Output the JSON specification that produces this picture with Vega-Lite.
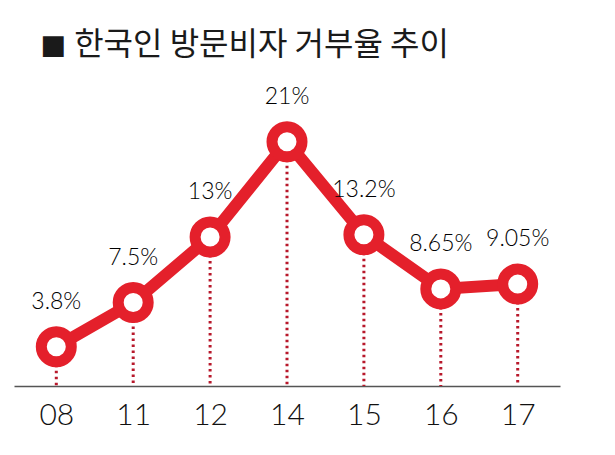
{
  "$schema": "https://vega.github.io/schema/vega-lite/v6.json",
  "autosize": "none",
  "width": 546,
  "height": 286,
  "padding": {"left": 14, "top": 100, "right": 55, "bottom": 69},
  "background": "white",
  "config": {"view": {"stroke": null}},
  "title": {
    "text": "◼ 한국인 방문비자 거부율 추이",
    "anchor": "start",
    "frame": "group",
    "dx": 26,
    "offset": 24,
    "font": "Noto Sans CJK KR",
    "fontSize": 32,
    "fontWeight": "normal",
    "color": "#1a1a1a"
  },
  "data": {
    "values": [
      {"year": "08", "rate": 3.8, "label": "3.8%"},
      {"year": "11", "rate": 7.5, "label": "7.5%"},
      {"year": "12", "rate": 13, "label": "13%"},
      {"year": "14", "rate": 21, "label": "21%"},
      {"year": "15", "rate": 13.2, "label": "13.2%"},
      {"year": "16", "rate": 8.65, "label": "8.65%"},
      {"year": "17", "rate": 9.05, "label": "9.05%"}
    ]
  },
  "encoding": {
    "x": {
      "field": "year",
      "type": "ordinal",
      "sort": null,
      "scale": {"type": "point", "padding": 0.55},
      "axis": {
        "title": null,
        "labelAngle": 0,
        "ticks": false,
        "domainColor": "#555555",
        "domainWidth": 1.5,
        "labelFont": "Lato",
        "labelFontWeight": 300,
        "labelFontSize": 30,
        "labelColor": "#111111",
        "labelPadding": 14,
        "grid": false
      }
    },
    "y": {
      "field": "rate",
      "type": "quantitative",
      "scale": {"domain": [0.5, 24.5], "nice": false, "zero": false},
      "axis": null
    }
  },
  "layer": [
    {
      "mark": {"type": "rule", "color": "#b8182b", "strokeWidth": 3, "strokeDash": [2.5, 3.5]},
      "encoding": {"y2": {"datum": 0.5}}
    },
    {
      "mark": {"type": "line", "color": "#e4202b", "strokeWidth": 12}
    },
    {
      "mark": {"type": "point", "filled": true, "fill": "white", "stroke": "#e4202b", "strokeWidth": 11, "size": 900, "opacity": 1}
    },
    {
      "mark": {"type": "text", "dy": -45, "baseline": "middle", "font": "Lato", "fontWeight": 300, "fontSize": 23, "color": "#000000"},
      "encoding": {"text": {"field": "label"}}
    }
  ]
}
